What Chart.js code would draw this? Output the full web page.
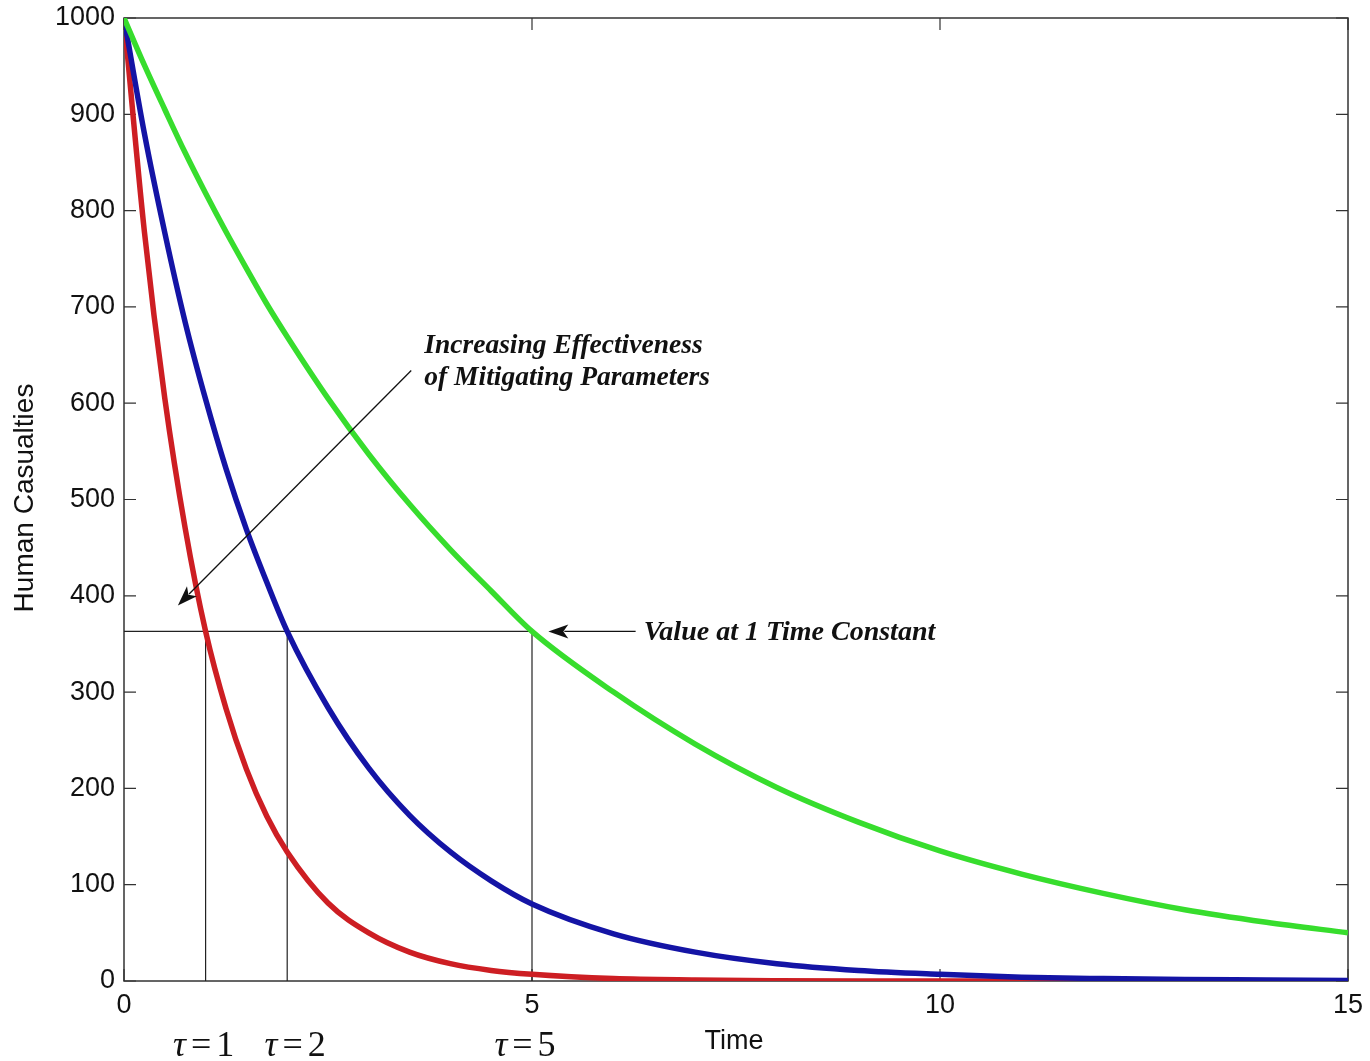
<!DOCTYPE html>
<html>
<head>
<meta charset="utf-8">
<title>Human Casualties vs Time</title>
<script src="https://cdn.jsdelivr.net/npm/chart.js@4.4.0/dist/chart.umd.min.js"></script>
<style>
    html, body { margin: 0; padding: 0; background: #fff; }
    #wrap { width: 1370px; height: 1061px; position: relative; }
</style>
</head>
<body>
<div id="wrap"><canvas id="chart" width="1370" height="1061"></canvas></div>
<script>
// Values
const timePoints = [0, 0.25, 0.5, 0.75, 1, 1.25, 1.5, 1.75, 2, 2.5, 3, 3.5, 4, 4.5, 5, 6, 7, 8, 9, 10, 11, 12, 13, 14, 15];
const casualtiesTau1 = [1000, 778, 605, 470, 363, 283, 220, 171, 134, 81, 50, 30, 18, 11, 7, 2.5, 1, 0.3, 0, 0, 0, 0, 0, 0, 0];
const casualtiesTau2 = [1000, 880, 777, 684, 604, 532, 469, 414, 363, 284, 221, 172, 134, 104, 80, 49, 30, 18, 11, 7, 4, 2.5, 1.5, 1, 0.5];
const casualtiesTau5 = [1000, 951, 905, 860, 818, 778, 740, 703, 669, 605, 547, 495, 448, 405, 363, 300, 246, 201, 165, 135, 111, 91, 74, 61, 50];

const tauValues = [1, 2, 5];
const valueAtTimeConstant = 363;

const xTicks = [0, 5, 10, 15];
const yTicks = [0, 100, 200, 300, 400, 500, 600, 700, 800, 900, 1000];

// annotation layout (data coordinates for anchors, pixel nudges for the tau labels)
const tauLabelShift = [-2, 8, -7];
const arrowNotes = [
    { from: [3.52, 634], to: [0.66, 390], textAt: [3.68, 660], size: 27.5, lines: ['Increasing Effectiveness', 'of Mitigating Parameters'] },
    { from: [6.27, 363], to: [5.2, 363], textAt: [6.37, 362], size: 28, lines: ['Value at 1 Time Constant'] }
];

const SANS = '"Liberation Sans", Arial, sans-serif';
const SERIF = '"Liberation Serif", "Times New Roman", serif';

function toPoints(xs, ys) {
    return xs.map((x, i) => ({ x: x, y: ys[i] }));
}

const curve = (label, values, color, order) => ({
    label: label,
    data: toPoints(timePoints, values),
    borderColor: color,
    borderWidth: 5.5,
    pointRadius: 0,
    cubicInterpolationMode: 'monotone',
    order: order
});

const refLine = (pts) => ({
    data: pts,
    borderColor: '#222',
    borderWidth: 1.2,
    pointRadius: 0,
    order: 10
});

const referenceSets = [
    refLine([{ x: 0, y: valueAtTimeConstant }, { x: tauValues[tauValues.length - 1], y: valueAtTimeConstant }])
].concat(tauValues.map(t => refLine([{ x: t, y: 0 }, { x: t, y: valueAtTimeConstant }])));

function drawArrow(ctx, x1, y1, x2, y2) {
    const ang = Math.atan2(y2 - y1, x2 - x1);
    const len = 20, half = 7;
    ctx.beginPath();
    ctx.moveTo(x1, y1);
    ctx.lineTo(x2 - Math.cos(ang) * len * 0.8, y2 - Math.sin(ang) * len * 0.8);
    ctx.stroke();
    ctx.beginPath();
    ctx.moveTo(x2, y2);
    ctx.lineTo(x2 - Math.cos(ang) * len - Math.sin(ang) * half, y2 - Math.sin(ang) * len + Math.cos(ang) * half);
    ctx.lineTo(x2 - Math.cos(ang) * len * 0.75, y2 - Math.sin(ang) * len * 0.75);
    ctx.lineTo(x2 - Math.cos(ang) * len + Math.sin(ang) * half, y2 - Math.sin(ang) * len - Math.cos(ang) * half);
    ctx.closePath();
    ctx.fill();
}

const framePlugin = {
    id: 'frame',
    beforeDatasetsDraw(chart) {
        const { ctx, chartArea: a, scales } = chart;
        ctx.save();
        ctx.strokeStyle = '#333';
        ctx.lineWidth = 1.5;
        ctx.strokeRect(a.left, a.top, a.right - a.left, a.bottom - a.top);
        ctx.lineWidth = 1.2;
        const tl = 12;
        ctx.beginPath();
        xTicks.forEach(v => {
            const px = scales.x.getPixelForValue(v);
            ctx.moveTo(px, a.bottom); ctx.lineTo(px, a.bottom - tl);
            ctx.moveTo(px, a.top); ctx.lineTo(px, a.top + tl);
        });
        yTicks.forEach(v => {
            const py = scales.y.getPixelForValue(v);
            ctx.moveTo(a.left, py); ctx.lineTo(a.left + tl, py);
            ctx.moveTo(a.right, py); ctx.lineTo(a.right - tl, py);
        });
        ctx.stroke();
        ctx.restore();
    },
    afterDraw(chart) {
        const { ctx, chartArea: a, scales } = chart;
        const xs = scales.x, ys = scales.y;
        ctx.save();

        // tick labels
        ctx.fillStyle = '#111';
        ctx.font = '27px ' + SANS;
        ctx.textBaseline = 'middle';
        ctx.textAlign = 'center';
        xTicks.forEach(v => ctx.fillText(String(v), xs.getPixelForValue(v), a.bottom + 25));
        ctx.textAlign = 'right';
        yTicks.forEach(v => ctx.fillText(String(v), a.left - 9, ys.getPixelForValue(v)));

        // axis titles
        ctx.textAlign = 'center';
        ctx.fillText('Time', 734, 1042);
        ctx.save();
        ctx.translate(25, 498);
        ctx.rotate(-Math.PI / 2);
        ctx.font = '28px ' + SANS;
        ctx.fillText('Human Casualties', 0, 0);
        ctx.restore();

        // tau labels under the axis
        ctx.textBaseline = 'alphabetic';
        ctx.textAlign = 'left';
        tauValues.forEach((t, k) => {
            const parts = [
                { s: '\u03C4', f: 'italic 36px ' + SERIF },
                { s: '=', f: '36px ' + SERIF },
                { s: String(t), f: '36px ' + SERIF }
            ];
            const gap = 5;
            let total = 0;
            parts.forEach(p => { ctx.font = p.f; p.w = ctx.measureText(p.s).width; total += p.w; });
            total += gap * (parts.length - 1);
            let x = xs.getPixelForValue(t) + tauLabelShift[k] - total / 2;
            parts.forEach(p => {
                ctx.font = p.f;
                ctx.fillText(p.s, x, 1056);
                x += p.w + gap;
            });
        });

        // arrow annotations
        ctx.strokeStyle = '#111';
        ctx.fillStyle = '#111';
        ctx.lineWidth = 1.3;
        arrowNotes.forEach(n => {
            drawArrow(ctx,
                xs.getPixelForValue(n.from[0]), ys.getPixelForValue(n.from[1]),
                xs.getPixelForValue(n.to[0]), ys.getPixelForValue(n.to[1]));
            ctx.font = 'italic bold ' + n.size + 'px ' + SERIF;
            ctx.textAlign = 'left';
            ctx.textBaseline = 'middle';
            const tx = xs.getPixelForValue(n.textAt[0]);
            const ty = ys.getPixelForValue(n.textAt[1]);
            n.lines.forEach((line, i) => ctx.fillText(line, tx, ty + i * 32));
        });
        ctx.restore();
    }
};

const chart = new Chart(document.getElementById('chart'), {
    type: 'line',
    data: {
        datasets: [
            curve('\u03C4 = 5', casualtiesTau5, 'rgb(55, 221, 45)', 1),
            curve('\u03C4 = 2', casualtiesTau2, 'rgb(20, 20, 165)', 2),
            curve('\u03C4 = 1', casualtiesTau1, 'rgb(205, 30, 35)', 3)
        ].concat(referenceSets)
    },
    options: {
        responsive: false,
        animation: false,
        layout: { padding: { top: 18, right: 22, left: 0, bottom: 0 } },
        plugins: {
            legend: { display: false },
            tooltip: { enabled: false }
        },
        scales: {
            x: {
                type: 'linear',
                min: 0,
                max: 15,
                afterFit: s => {
                    s.height = 80;
                    s.paddingLeft = 0; s.paddingRight = 0;
                },
                grid: { display: false },
                border: { display: false },
                ticks: { display: false }
            },
            y: {
                type: 'linear',
                min: 0,
                max: 1000,
                afterFit: s => {
                    s.width = 124;
                    s.paddingTop = 0; s.paddingBottom = 0;
                },
                grid: { display: false },
                border: { display: false },
                ticks: { display: false }
            }
        }
    },
    plugins: [framePlugin]
});
</script>
</body>
</html>
